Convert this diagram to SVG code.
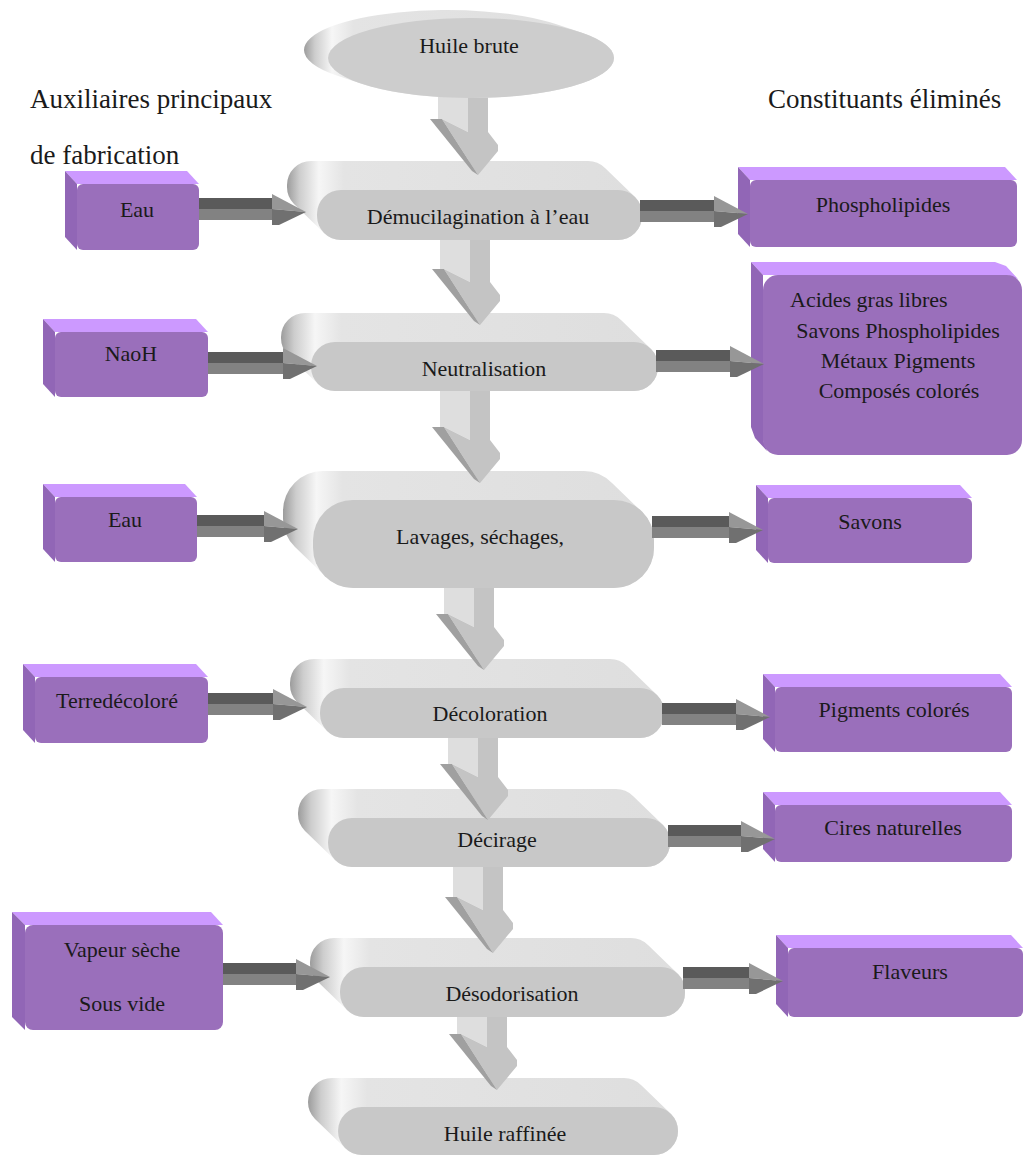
<svg xmlns="http://www.w3.org/2000/svg" width="1025" height="1156" viewBox="0 0 1025 1156" font-family="'Liberation Serif', 'DejaVu Serif', serif">
<defs>
<linearGradient id="gs" x1="0" y1="0" x2="1" y2="0">
<stop offset="0" stop-color="#9c9c9c"/>
<stop offset="0.035" stop-color="#cdcdcd"/>
<stop offset="0.09" stop-color="#f6f6f6"/>
<stop offset="0.16" stop-color="#e4e4e4"/>
<stop offset="1" stop-color="#dedede"/>
</linearGradient>
<g id="vh">
<polygon class="vl" points="-36,-56 -10,-56 -10,-43"/>
<polygon class="vd" points="-36,-56 -10,-43 10,-43 20,-30 20,-24 0,0"/>
<polygon class="vs" points="-48,-56 -36,-56 0,0 -6,-4"/>
</g>
<g id="hh">
<polygon class="hc" points="-34,-18 0,0 -34,-3"/>
<polygon class="hd" points="-34,-3 0,0 -27,13 -34,13"/>
</g>
</defs>
<style>
text{font-family:'Liberation Serif','DejaVu Serif',serif;fill:#1a1a1a}
.t{font-size:22px;text-anchor:middle}
.tl{font-size:22px}
.h{font-size:27px}
.sw{fill:url(#gs)}
.fr{fill:#c8c8c8}
.pt{fill:#cc99ff}
.pl{fill:#9166b6}
.pf{fill:#9a6fbb}
.vl{fill:#dedede}
.vd{fill:#c4c4c4}
.vs{fill:#a0a0a0}
.ha{fill:#5a5a5a}
.hb{fill:#828282}
.hc{fill:#979797}
.hd{fill:#707070}
</style>
<rect width="1025" height="1156" fill="#ffffff"/>

<g id="headings">
<text class="h" x="30" y="108">Auxiliaires principaux</text>
<text class="h" x="30" y="164">de fabrication</text>
<text class="h" x="768" y="108">Constituants éliminés</text>
</g>

<g id="n-demucilagination">
<path class="sw" d="M311,161 L588,161 A24,24 0 0 1 605,168 L635,197 A24,24 0 0 1 642,214 L642,216 A24,24 0 0 1 618,240 L341,240 A24,24 0 0 1 324,233 L294,204 A24,24 0 0 1 287,187 L287,185 A24,24 0 0 1 311,161 Z"/>
<rect class="fr" x="317" y="190" width="325" height="50" rx="24"/>
<text class="t" x="478" y="224">Démucilagination à l’eau</text>
</g>
<g id="n-neutralisation">
<path class="sw" d="M305,313 L604,313 A24,24 0 0 1 621,320 L651,349 A24,24 0 0 1 658,366 L658,367 A24,24 0 0 1 634,391 L335,391 A24,24 0 0 1 318,384 L288,355 A24,24 0 0 1 281,338 L281,337 A24,24 0 0 1 305,313 Z"/>
<rect class="fr" x="311" y="342" width="347" height="49" rx="24"/>
<text class="t" x="484" y="376">Neutralisation</text>
</g>
<g id="n-lavages">
<path class="sw" d="M323,471 L584,471 A40,40 0 0 1 612,483 L642,512 A40,40 0 0 1 654,540 L654,548 A40,40 0 0 1 614,588 L353,588 A40,40 0 0 1 325,576 L295,547 A40,40 0 0 1 283,519 L283,511 A40,40 0 0 1 323,471 Z"/>
<rect class="fr" x="313" y="500" width="341" height="88" rx="40"/>
<text class="t" x="480" y="544">Lavages, séchages,</text>
</g>
<g id="n-decoloration">
<path class="sw" d="M314,659 L610,659 A24,24 0 0 1 627,666 L657,695 A24,24 0 0 1 664,712 L664,714 A24,24 0 0 1 640,738 L344,738 A24,24 0 0 1 327,731 L297,702 A24,24 0 0 1 290,685 L290,683 A24,24 0 0 1 314,659 Z"/>
<rect class="fr" x="320" y="688" width="344" height="50" rx="24"/>
<text class="t" x="490" y="721">Décoloration</text>
</g>
<g id="n-decirage">
<path class="sw" d="M322,789 L616,789 A24,24 0 0 1 633,796 L663,825 A24,24 0 0 1 670,842 L670,843 A24,24 0 0 1 646,867 L352,867 A24,24 0 0 1 335,860 L305,831 A24,24 0 0 1 298,814 L298,813 A24,24 0 0 1 322,789 Z"/>
<rect class="fr" x="328" y="818" width="342" height="49" rx="24"/>
<text class="t" x="497" y="847">Décirage</text>
</g>
<g id="n-desodorisation">
<path class="sw" d="M334,938 L631,938 A24,24 0 0 1 648,945 L678,974 A24,24 0 0 1 685,991 L685,993 A24,24 0 0 1 661,1017 L364,1017 A24,24 0 0 1 347,1010 L317,981 A24,24 0 0 1 310,964 L310,962 A24,24 0 0 1 334,938 Z"/>
<rect class="fr" x="340" y="967" width="345" height="50" rx="24"/>
<text class="t" x="512" y="1001">Désodorisation</text>
</g>
<g id="n-huile-raffinee">
<path class="sw" d="M332,1078 L624,1078 A24,24 0 0 1 641,1085 L671,1114 A24,24 0 0 1 678,1131 A24,24 0 0 1 654,1155 L362,1155 A24,24 0 0 1 345,1148 L315,1119 A24,24 0 0 1 308,1102 A24,24 0 0 1 332,1078 Z"/>
<rect class="fr" x="338" y="1107" width="340" height="48" rx="24"/>
<text class="t" x="505" y="1141">Huile raffinée</text>
</g>

<g id="p-eau1">
<polygon class="pt" points="65,171 187,171 199,184 77,184"/>
<polygon class="pl" points="65,171 77,184 77,250 65,237"/>
<rect class="pf" x="77" y="184" width="122" height="66" rx="6"/>
<text class="t" x="137" y="217">Eau</text>
</g>
<g id="p-phospholipides">
<polygon class="pt" points="738,167 1005,167 1017,180 750,180"/>
<polygon class="pl" points="738,167 750,180 750,247 738,234"/>
<rect class="pf" x="750" y="180" width="267" height="67" rx="6"/>
<text class="t" x="883" y="212">Phospholipides</text>
</g>
<g id="p-acides">
<polygon class="pt" points="751,262 995,262 1006,266 1018,279 1007,275 763,275"/>
<polygon class="pl" points="751,262 763,275 763,440 767,451 755,438 751,427"/>
<rect class="pf" x="763" y="275" width="259" height="180" rx="15"/>
<text class="tl" x="790" y="307">Acides gras libres</text>
<text class="t" x="898" y="338">Savons Phospholipides</text>
<text class="t" x="898" y="368">Métaux Pigments</text>
<text class="t" x="899" y="398">Composés colorés</text>
</g>
<g id="p-savons">
<polygon class="pt" points="756,485 960,485 972,498 768,498"/>
<polygon class="pl" points="756,485 768,498 768,563 756,550"/>
<rect class="pf" x="768" y="498" width="204" height="65" rx="6"/>
<text class="t" x="870" y="529">Savons</text>
</g>
<g id="p-pigments">
<polygon class="pt" points="763,674 1000,674 1012,687 775,687"/>
<polygon class="pl" points="763,674 775,687 775,752 763,739"/>
<rect class="pf" x="775" y="687" width="237" height="65" rx="6"/>
<text class="t" x="894" y="717">Pigments colorés</text>
</g>
<g id="p-cires">
<polygon class="pt" points="763,792 1000,792 1012,805 775,805"/>
<polygon class="pl" points="763,792 775,805 775,862 763,849"/>
<rect class="pf" x="775" y="805" width="237" height="57" rx="6"/>
<text class="t" x="893" y="835">Cires naturelles</text>
</g>
<g id="p-flaveurs">
<polygon class="pt" points="776,935 1011,935 1023,948 788,948"/>
<polygon class="pl" points="776,935 788,948 788,1017 776,1004"/>
<rect class="pf" x="788" y="948" width="235" height="69" rx="6"/>
<text class="t" x="910" y="979">Flaveurs</text>
</g>
<g id="p-naoh">
<polygon class="pt" points="43,319 196,319 208,332 55,332"/>
<polygon class="pl" points="43,319 55,332 55,397 43,384"/>
<rect class="pf" x="55" y="332" width="153" height="65" rx="6"/>
<text class="t" x="131" y="361">NaoH</text>
</g>
<g id="p-eau2">
<polygon class="pt" points="43,484 185,484 197,497 55,497"/>
<polygon class="pl" points="43,484 55,497 55,562 43,549"/>
<rect class="pf" x="55" y="497" width="142" height="65" rx="6"/>
<text class="t" x="125" y="527">Eau</text>
</g>
<g id="p-terre">
<polygon class="pt" points="23,664 196,664 208,677 35,677"/>
<polygon class="pl" points="23,664 35,677 35,743 23,730"/>
<rect class="pf" x="35" y="677" width="173" height="66" rx="6"/>
<text class="t" x="117" y="708">Terredécoloré</text>
</g>
<g id="p-vapeur">
<polygon class="pt" points="12,912 211,912 223,925 25,925"/>
<polygon class="pl" points="12,912 25,925 25,1030 12,1017"/>
<rect class="pf" x="25" y="925" width="198" height="105" rx="8"/>
<text class="t" x="122" y="957">Vapeur sèche</text>
<text class="t" x="122" y="1011">Sous vide</text>
</g>

<g id="connectors">
<rect class="vl" x="438" y="95" width="30" height="24"/><rect class="vd" x="468" y="95" width="20" height="37"/><use href="#vh" x="478" y="175"/>
<rect class="vl" x="440" y="240" width="30" height="29"/><rect class="vd" x="470" y="240" width="20" height="42"/><use href="#vh" x="480" y="325"/>
<rect class="vl" x="440" y="391" width="30" height="36"/><rect class="vd" x="470" y="391" width="20" height="49"/><use href="#vh" x="480" y="483"/>
<rect class="vl" x="444" y="588" width="30" height="26"/><rect class="vd" x="474" y="588" width="20" height="39"/><use href="#vh" x="484" y="670"/>
<rect class="vl" x="448" y="738" width="30" height="26"/><rect class="vd" x="478" y="738" width="20" height="39"/><use href="#vh" x="488" y="820"/>
<rect class="vl" x="453" y="867" width="30" height="30"/><rect class="vd" x="483" y="867" width="20" height="43"/><use href="#vh" x="493" y="953"/>
<rect class="vl" x="457" y="1017" width="30" height="17"/><rect class="vd" x="487" y="1017" width="20" height="30"/><use href="#vh" x="497" y="1090"/>

<rect class="ha" x="199" y="198" width="74" height="11"/><rect class="hb" x="199" y="209" width="74" height="11"/><use href="#hh" x="306" y="212"/>
<rect class="ha" x="640" y="200" width="75" height="11"/><rect class="hb" x="640" y="211" width="75" height="11"/><use href="#hh" x="748" y="214"/>
<rect class="ha" x="208" y="352" width="76" height="11"/><rect class="hb" x="208" y="363" width="76" height="11"/><use href="#hh" x="317" y="366"/>
<rect class="ha" x="656" y="350" width="75" height="11"/><rect class="hb" x="656" y="361" width="75" height="11"/><use href="#hh" x="764" y="364"/>
<rect class="ha" x="197" y="515" width="68" height="11"/><rect class="hb" x="197" y="526" width="68" height="11"/><use href="#hh" x="298" y="529"/>
<rect class="ha" x="652" y="516" width="78" height="11"/><rect class="hb" x="652" y="527" width="78" height="11"/><use href="#hh" x="763" y="530"/>
<rect class="ha" x="208" y="693" width="66" height="11"/><rect class="hb" x="208" y="704" width="66" height="11"/><use href="#hh" x="307" y="707"/>
<rect class="ha" x="662" y="703" width="75" height="11"/><rect class="hb" x="662" y="714" width="75" height="11"/><use href="#hh" x="770" y="717"/>
<rect class="ha" x="668" y="825" width="74" height="11"/><rect class="hb" x="668" y="836" width="74" height="11"/><use href="#hh" x="775" y="839"/>
<rect class="ha" x="223" y="963" width="74" height="11"/><rect class="hb" x="223" y="974" width="74" height="11"/><use href="#hh" x="330" y="977"/>
<rect class="ha" x="683" y="967" width="67" height="11"/><rect class="hb" x="683" y="978" width="67" height="11"/><use href="#hh" x="783" y="981"/>
</g>

<g id="n-huile-brute">
<path class="sw" d="M556.5,24.3 A143,40 0 0 0 304,50 A143,40 0 0 0 337.5,75.7 L361.5,83.7 A143,40 0 0 0 614,58 A143,40 0 0 0 580.5,32.3 Z"/>
<ellipse cx="471" cy="58" rx="143" ry="40" fill="#cdcdcd"/>
<text class="t" x="469" y="53">Huile brute</text>
</g>
</svg>
